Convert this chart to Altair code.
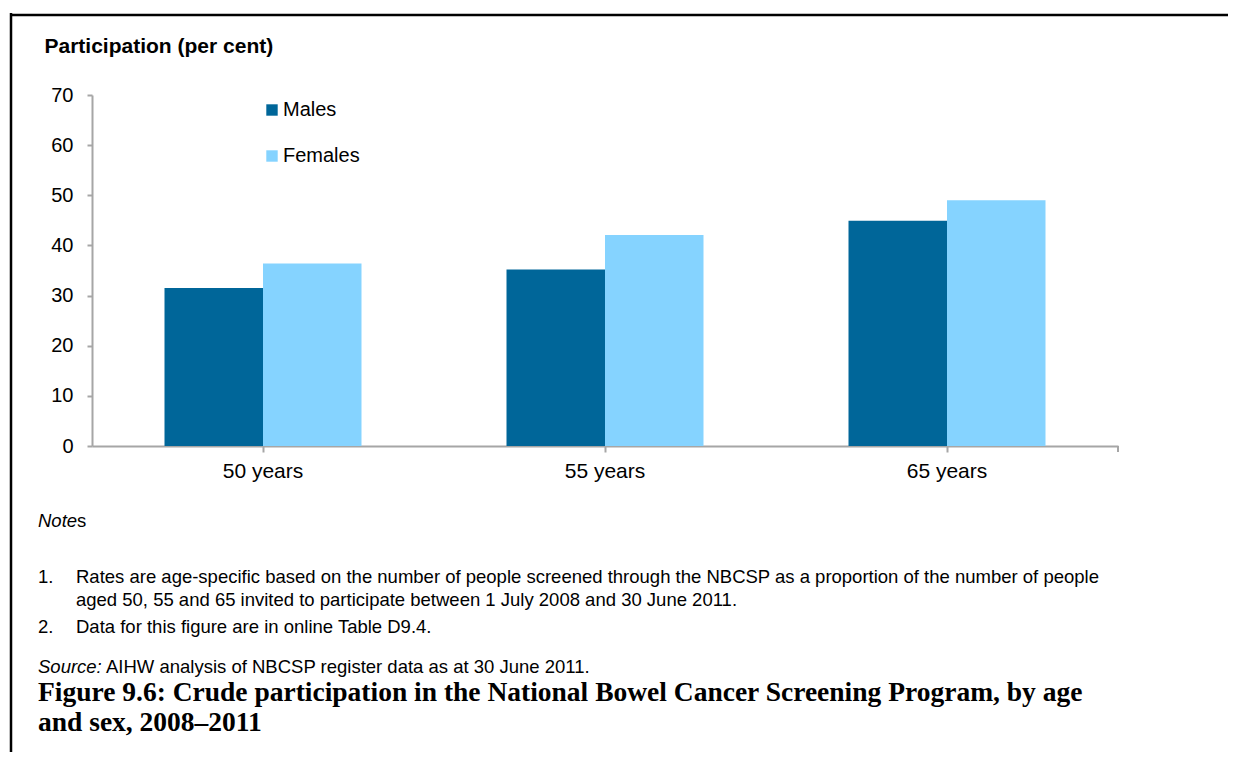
import altair as alt
import pandas as pd

# ---- data ----
ages = ["50 years", "55 years", "65 years"]
sexes = ["Males", "Females"]
males = [31.5, 35.2, 44.9]
females = [36.4, 42.1, 49.0]

y_title = "Participation (per cent)"
notes_head = ["Note", "s"]
note1_line1 = "Rates are age-specific based on the number of people screened through the NBCSP as a proportion of the number of people"
note1_line2 = "aged 50, 55 and 65 invited to participate between 1 July 2008 and 30 June 2011."
note2 = "Data for this figure are in online Table D9.4."
source_head = "Source:"
source_text = "AIHW analysis of NBCSP register data as at 30 June 2011."
caption1 = "Figure 9.6: Crude participation in the National Bowel Cancer Screening Program, by age"
caption2 = "and sex, 2008\u20132011"

rows = []
for a, m, f in zip(ages, males, females):
    rows.append({"age": a, "sex": "Males", "value": m})
    rows.append({"age": a, "sex": "Females", "value": f})
df = pd.DataFrame(rows)

SANS = "Liberation Sans"
SERIF = "Liberation Serif"
AXIS_GRAY = "#A6A6A6"

bars = alt.Chart(df).mark_bar().encode(
    x=alt.X("age:N", sort=ages,
            scale=alt.Scale(paddingInner=0, paddingOuter=0),
            axis=alt.Axis(title=None, labelAngle=0, labelFontSize=21, labelFont=SANS,
                          labelColor="#000000", domainColor=AXIS_GRAY, domainWidth=2,
                          tickColor=AXIS_GRAY, tickWidth=2, tickSize=6, labelPadding=8)),
    xOffset=alt.XOffset("sex:N", sort=sexes,
                        scale=alt.Scale(paddingOuter=0.736, paddingInner=0)),
    y=alt.Y("value:Q", scale=alt.Scale(domain=[0, 70]),
            axis=alt.Axis(values=list(range(0, 71, 10)), grid=False, labelFontSize=20,
                          labelFont=SANS, labelColor="#000000", domainColor=AXIS_GRAY,
                          domainWidth=2, tickColor=AXIS_GRAY, tickWidth=2, tickSize=5,
                          labelPadding=14, title=y_title, titleAngle=0, titleAlign="left",
                          titleBaseline="alphabetic", titleX=-48, titleY=-43,
                          titleFont=SANS, titleFontSize=21, titleFontWeight="bold",
                          titleColor="#000000")),
    color=alt.Color("sex:N", sort=sexes,
                    scale=alt.Scale(domain=sexes, range=["#006699", "#85D3FF"]),
                    legend=alt.Legend(title=None, orient="none", legendX=170, legendY=5,
                                      symbolType="square", symbolSize=130,
                                      symbolStrokeWidth=0, labelFontSize=20, labelFont=SANS,
                                      labelColor="#000000", labelOffset=1, rowPadding=26,
                                      padding=0)),
)

one = pd.DataFrame({"k": [0]})


def text_layer(txt, x, y, size=18.5, font=SANS, style="normal", weight="normal"):
    return alt.Chart(one).mark_text(
        text=txt, align="left", baseline="middle", font=font, fontSize=size,
        fontStyle=style, fontWeight=weight, color="#000000"
    ).encode(x=alt.value(x), y=alt.value(y))


def rule_layer(x, x2, y, y2, width=2.5, color="#000000"):
    return alt.Chart(one).mark_rule(color=color, strokeWidth=width).encode(
        x=alt.value(x), x2=alt.value(x2), y=alt.value(y), y2=alt.value(y2))


# plot origin is at page (92, 95)
layers = [
    bars,
    rule_layer(-81, -81, -82, 680),          # left frame line
    rule_layer(-82, 1150, -80, -80),         # top frame line
    rule_layer(1026, 1026, 351, 357, width=2, color=AXIS_GRAY),  # axis end tick
    text_layer(notes_head[0], -54, 426, style="italic"),
    text_layer(notes_head[1], -54 + 39, 426),
    text_layer("1.", -54, 482),
    text_layer(note1_line1, -16, 482),
    text_layer(note1_line2, -16, 505),
    text_layer("2.", -54, 532),
    text_layer(note2, -16, 532),
    text_layer(source_head, -54, 572, style="italic"),
    text_layer(source_text, 14, 572),
    text_layer(caption1, -54, 598, size=27.5, font=SERIF, weight="bold"),
    text_layer(caption2, -54, 628, size=27.5, font=SERIF, weight="bold"),
]

chart = alt.layer(*layers).properties(
    width=1026, height=351,
    autosize=alt.AutoSizeParams(type="none"),
    padding={"left": 84, "top": 87, "right": 110, "bottom": 306},
).configure_view(stroke=None, strokeWidth=0)

chart.save("out.html", embed_options={"renderer": "svg", "actions": False})
